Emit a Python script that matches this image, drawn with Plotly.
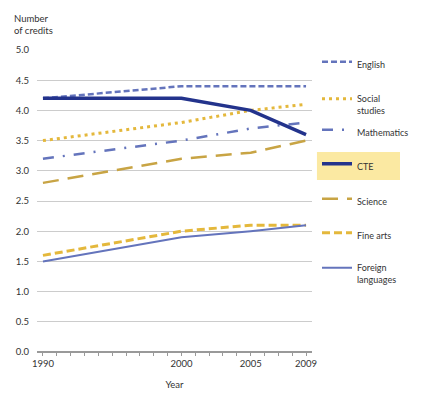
import plotly.graph_objects as go

years = [1990, 2000, 2005, 2009]
english = [4.2, 4.4, 4.4, 4.4]
social_studies = [3.5, 3.8, 4.0, 4.1]
mathematics = [3.2, 3.5, 3.7, 3.8]
cte = [4.2, 4.2, 4.0, 3.6]
science = [2.8, 3.2, 3.3, 3.5]
fine_arts = [1.6, 2.0, 2.1, 2.1]
foreign_languages = [1.5, 1.9, 2.0, 2.1]

series_names = ["English", "Social<br>studies", "Mathematics", "CTE", "Science", "Fine arts", "Foreign<br>languages"]
series_values = [english, social_studies, mathematics, cte, science, fine_arts, foreign_languages]

LAV = "#6474BC"
NAVY = "#23338C"
GOLD = "#E4B83C"
SCI = "#C8A444"
FONT = "Lato"

styles = [
    dict(color=LAV, width=2.5, dash="6px,3px"),
    dict(color=GOLD, width=3, dash="3px,4px"),
    dict(color=LAV, width=2.5, dash="11px,9px,2px,9px"),
    dict(color=NAVY, width=3.5, dash="solid"),
    dict(color=SCI, width=2.5, dash="16px,9px"),
    dict(color=GOLD, width=3, dash="8px,4px"),
    dict(color=LAV, width=2, dash="solid"),
]

FIG_W, FIG_H = 414, 388
# legend entry vertical centres (pixel rows in the window; page offset 8px)
legend_rows = [64, 105, 132, 166, 201, 235, 274]

fig = go.Figure()
layout_legends = {}
for i, (name, vals, st) in enumerate(zip(series_names, series_values, styles)):
    key = "legend" if i == 0 else f"legend{i+1}"
    fig.add_trace(go.Scatter(
        x=years, y=vals, mode="lines", name=name, line=st,
        legend=key, hoverinfo="skip",
    ))
    layout_legends[key] = dict(
        xref="container", yref="container",
        x=(317 - 8) / FIG_W, y=1 - (legend_rows[i] - 8) / FIG_H,
        xanchor="left", yanchor="middle",
        bgcolor="rgba(0,0,0,0)", font=dict(family=FONT, size=9, color="#333333"),
        valign="top", itemwidth=30,
    )

# highlight box behind CTE legend entry
fig.add_shape(type="rect", xref="paper", yref="paper",
              x0=1.018, x1=1.32, y0=0.5695, y1=0.662,
              fillcolor="#FBE9A2", line_width=0, layer="below")

# page body has an 8px default margin, so the figure is sized to compensate
fig.update_layout(
    width=FIG_W, height=FIG_H,
    margin=dict(l=29, r=110, t=42, b=44, autoexpand=False),
    paper_bgcolor="white", plot_bgcolor="white",
    font=dict(family=FONT, size=9.5, color="#333333"),
    showlegend=True,
    xaxis=dict(
        range=[1989.57, 2009.43], automargin=False,
        tickvals=years, ticktext=[str(y) for y in years],
        ticks="outside", ticklen=3, tickcolor="#999999",
        minor=dict(ticks="outside", dtick=1, ticklen=3, tickcolor="#999999", showgrid=False),
        showgrid=False, zeroline=False, showline=False,
        title=dict(text="Year", font=dict(size=9.5), standoff=12),
        tickfont=dict(size=9.5),
    ),
    yaxis=dict(
        range=[0, 5], dtick=0.5, tickformat=".1f", automargin=False,
        showgrid=True, gridcolor="#CCCCCC", gridwidth=1,
        zeroline=True, zerolinecolor="#999999", zerolinewidth=2,
        ticks="", tickfont=dict(size=9.5), ticklabelstandoff=7,
    ),
    annotations=[dict(
        text="Number<br>of credits", xref="paper", yref="paper",
        x=0, y=1, xanchor="left", yanchor="bottom", yshift=12, xshift=-25,
        showarrow=False, align="left", font=dict(family=FONT, size=9.5, color="#333333"),
    )],
    **layout_legends,
)

fig.write_html("out.html")
